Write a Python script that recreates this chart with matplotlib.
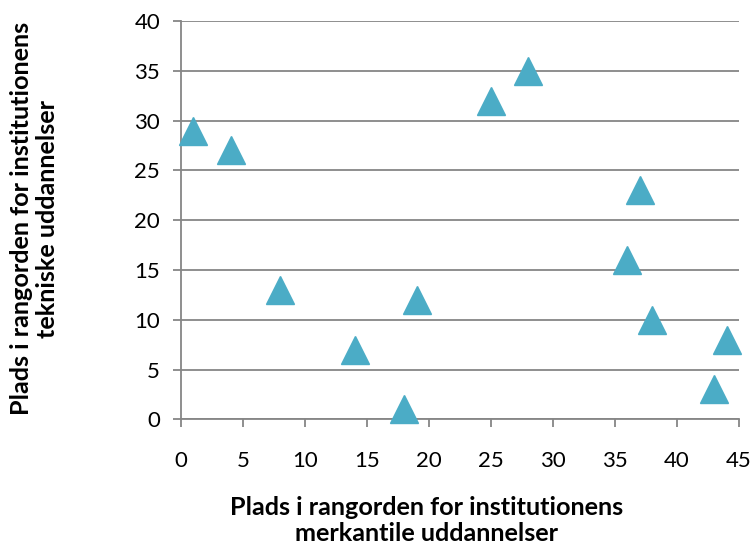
import matplotlib
matplotlib.use('Agg')
import matplotlib.pyplot as plt

# placering: merkantile (x) vs tekniske (y)
merkantil = [1, 4, 8, 14, 18, 19, 25, 28, 36, 37, 38, 43, 44]
teknisk = [29, 27, 13, 7, 1, 12, 32, 35, 16, 23, 10, 3, 8]

x_ticks = list(range(0, 46, 5))
y_ticks = list(range(0, 41, 5))

plt.rcParams['font.family'] = ['Lato', 'DejaVu Sans']

fig = plt.figure(figsize=(7.55, 5.45), dpi=100)
ax = fig.add_axes([0.2397, 0.2306, 0.7391, 0.7308])

ax.plot(merkantil, teknisk, linestyle='none', marker='^', markersize=20,
        color='#4BACC6', markeredgecolor='#4BACC6', clip_on=False, zorder=3)

ax.set_xlim(0, 45)
ax.set_ylim(0, 40)
ax.set_xticks(x_ticks)
ax.set_yticks(y_ticks)
ax.yaxis.grid(True, color='#868686', linewidth=1.3)
ax.set_axisbelow(True)

for s in ['top', 'right']:
    ax.spines[s].set_visible(False)
for s in ['left', 'bottom']:
    ax.spines[s].set_color('#868686')
    ax.spines[s].set_linewidth(1.3)

ax.tick_params(axis='both', colors='#868686', labelcolor='black',
               labelsize=16, length=6, width=1.3, direction='out')
ax.tick_params(axis='x', pad=17)
ax.tick_params(axis='y', pad=9)

ax.set_xlabel('Plads i rangorden for institutionens\nmerkantile uddannelser',
              fontsize=18.2, fontweight='bold', linespacing=1.15)
ax.set_ylabel('Plads i rangorden for institutionens\ntekniske uddannelser',
              fontsize=18.2, fontweight='bold', linespacing=1.15)
# Excel puts the titles a bit off-centre
ax.xaxis.set_label_coords(0.44, -0.192)
ax.yaxis.set_label_coords(-0.2186, 0.504)

fig.savefig('out.png', dpi=100)
